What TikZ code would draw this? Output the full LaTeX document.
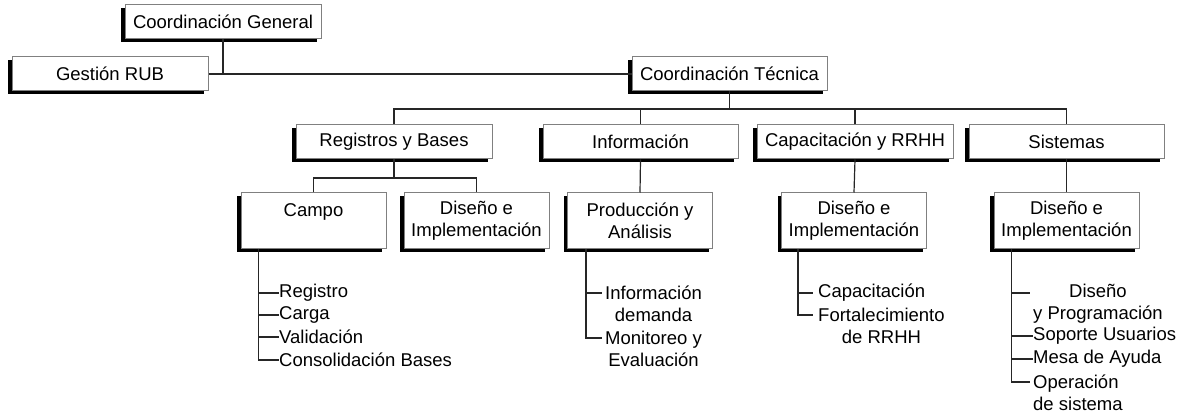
\documentclass[tikz,border=0pt]{standalone}
\usepackage{fontspec}
\setmainfont{Liberation Sans}
\usetikzlibrary{shadows}
\newcommand{\orgfs}{\fontsize{18.5}{22}\selectfont}
\begin{document}
\begin{tikzpicture}[x=1pt,y=-1pt,
  box/.style={draw=black!50, fill=white, line width=1pt, inner sep=0pt,
    font=\orgfs, align=center,
    drop shadow={shadow xshift=-4pt, shadow yshift=-3.5pt, fill=black, opacity=1}},
  wide/.style={minimum width=196pt, minimum height=34pt},
  tall/.style={minimum width=145pt, minimum height=56pt},
  conn/.style={draw=black!85, line width=1.2pt},
  item/.style={font=\orgfs, inner sep=0pt, anchor=west},
]
\useasboundingbox (0,0) rectangle (1181,414);

% level 0/1
\node[box,wide] (cg) at (223,22) {Coordinación General};
\node[box,wide] (gr) at (110,74) {Gestión RUB};
\node[box,wide,minimum width=195pt,minimum height=34pt] (ct) at (729.5,74) {Coordinación Técnica};

% level 2
\node[box,wide] (rb) at (394,142) {Registros y Bases};
\node[box,wide,minimum width=195pt] (inf) at (640.5,142) {Información};
\node[box,wide] (cap) at (855,142) {Capacitación y RRHH};
\node[box,wide,minimum width=195pt] (si) at (1066.5,142) {Sistemas};

% level 3
\node[box,tall] (campo) at (313.5,221) {Campo\\\mbox{}};
\node[box,tall] (dirb) at (476.5,221) {Diseño e\\Implementación};
\node[box,tall] (prod) at (640,221) {Producción y\\Análisis};
\node[box,tall] (dcap) at (854,221) {Diseño e\\Implementación};
\node[box,tall] (dsis) at (1066.5,221) {Diseño e\\Implementación};

\coordinate (bus) at (0,109);
\coordinate (sub) at (0,178);

% connectors top
\draw[conn] (cg.south) -- (cg.south |- gr.east);
\draw[conn] (gr.east) -- (ct.west);
\draw[conn] (ct.south) -- (ct.south |- bus);
\draw[conn] (rb.north) |- (si.north |- bus) -- (si.north);
\draw[conn] (inf.north) -- (inf.north |- bus);
\draw[conn] (cap.north) -- (cap.north |- bus);

% level 2 -> 3
\draw[conn] (rb.south) -- (rb.south |- sub);
\draw[conn] (campo.north) |- (dirb.north |- sub) -- (dirb.north);
\draw[conn] (inf.south) -- (prod.north);
\draw[conn] (cap.south) -- (dcap.north);
\draw[conn] (si.south) -- (dsis.north);

% lists: Campo
\node[item] (c1) at (279,293) {Registro};
\node[item] (c2) at (279,315) {Carga};
\node[item] (c3) at (279,337) {Validación};
\node[item] (c4) at (279,360) {Consolidación Bases};
\coordinate (cv) at ([xshift=18pt]campo.south west);
\draw[conn] (cv) |- (c4.west);
\foreach \n in {c1,c2,c3} \draw[conn] (cv |- \n.west) -- (\n.west);

% lists: Produccion
\node[item, align=center] (p1) at (605,304) {Información\\demanda};
\node[item, align=center] (p2) at (605,349) {Monitoreo y\\Evaluación};
\coordinate (pv) at ([xshift=19pt]prod.south west);
\draw[conn] (pv) |- ([xshift=-3pt,yshift=11pt]p2.west);
\draw[conn] (pv |- 0,293) -- ([xshift=-3pt,yshift=11pt]p1.west);

% lists: Capacitacion
\node[item] (k1) at (818,293) {Capacitación};
\node[item, align=center] (k2) at (818,326) {Fortalecimiento\\de RRHH};
\coordinate (kv) at ([xshift=17pt]dcap.south west);
\draw[conn] (kv) |- ([xshift=-5pt,yshift=11pt]k2.west);
\draw[conn] (kv |- k1.west) -- ([xshift=-5pt]k1.west);

% lists: Sistemas
\node[item, align=center] (s1) at (1033,304) {Diseño\\y Programación};
\node[item] (s2) at (1033,336) {Soporte Usuarios};
\node[item] (s3) at (1033,359) {Mesa de Ayuda};
\node[item, align=left] (s4) at (1033,393) {Operación\\de sistema};
\coordinate (sv) at ([xshift=18pt]dsis.south west);
\draw[conn] (sv) |- ([xshift=-3pt,yshift=11pt]s4.west);
\draw[conn] (sv |- 0,293) -- ([xshift=-3pt,yshift=11pt]s1.west);
\draw[conn] (sv |- s2.west) -- (s2.west);
\draw[conn] (sv |- s3.west) -- (s3.west);
\end{tikzpicture}
\end{document}
